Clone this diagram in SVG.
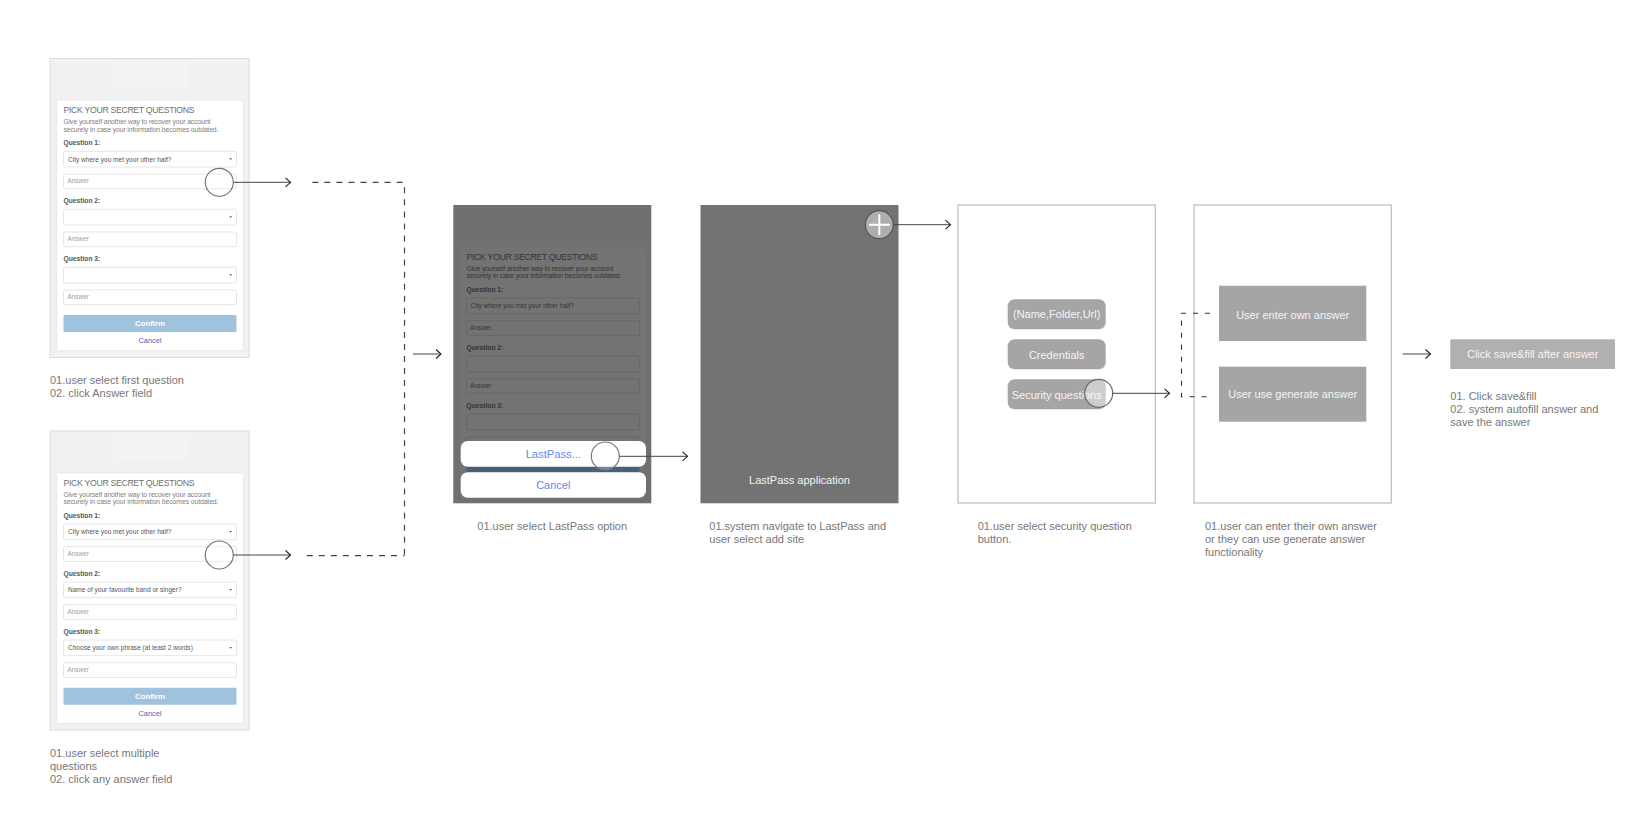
<svg xmlns="http://www.w3.org/2000/svg" width="1642" height="816" viewBox="0 0 1642 816">
<style>
text{font-family:"Liberation Sans",Arial,sans-serif}
.cap{font-size:11px;fill:#777}
.t{font-size:8.7px;fill:#707070}
.g{font-size:6.9px;fill:#808080}
.q{font-size:6.7px;font-weight:bold;fill:#555}
.v{font-size:6.55px;fill:#555}
.a{font-size:6.4px;fill:#a0a0a0}
.f{fill:#fff;stroke:#e6e6e6;stroke-width:1}
.d .t,.d .g,.d .q,.d .v,.d .a{fill:#333}
.d .f{fill:none;stroke:#686868}
.w{font-size:11px;fill:#f4f4f4;text-anchor:middle}
.frame{fill:#fff;stroke:#bdbdbd;stroke-width:1.2}
.ring{fill:#fff;fill-opacity:.25;stroke:#777;stroke-width:1.2}
.gb{fill:#a5a5a5}
.ln{fill:none;stroke:#444;stroke-width:1;marker-end:url(#ah)}
.dash{fill:none;stroke:#444;stroke-width:1.2;stroke-dasharray:6 6.05}
.dash2{fill:none;stroke:#333;stroke-width:1.1;stroke-dasharray:5 7}
.crt{fill:#666}
</style>
<defs>
<marker id="ah" markerUnits="userSpaceOnUse" markerWidth="10" markerHeight="12" refX="8" refY="6" orient="auto"><path d="M3 1.5L8 6L3 10.5" fill="none" stroke="#222" stroke-width="1.1"/></marker>
</defs>
<g id="screen-first">
<rect x="50" y="58.5" width="199" height="299" fill="#f1f1f1" stroke="#dcdcdc"/>
<rect x="114" y="62" width="74" height="26" fill="#f3f3f3"/>
<rect x="56.7" y="100" width="186.6" height="250.7" rx="1.5" fill="#fff" stroke="#e8e8e8"/>
<text class="t" x="63.5" y="113.3" textLength="131">PICK YOUR SECRET QUESTIONS</text>
<text class="g" x="63.5" y="124" textLength="147">Give yourself another way to recover your account</text>
<text class="g" x="63.5" y="131.7" textLength="155">securely in case your information becomes outdated.</text>
<text class="q" x="63.5" y="145.3">Question 1:</text>
<rect class="f" x="63.5" y="151.3" width="173" height="15.7" rx="1.5"/><text class="v" x="68" y="161.7">City where you met your other half?</text><path class="crt" d="M229.2 158.3h3l-1.5 1.8z"/>
<rect class="f" x="63.5" y="174" width="173" height="14.7" rx="1.5"/><text class="a" x="67.5" y="183.2">Answer</text>
<text class="q" x="63.5" y="203.3">Question 2:</text>
<rect class="f" x="63.5" y="209.3" width="173" height="15.7" rx="1.5"/><path class="crt" d="M229.2 216.3h3l-1.5 1.8z"/>
<rect class="f" x="63.5" y="232" width="173" height="14.7" rx="1.5"/><text class="a" x="67.5" y="241.2">Answer</text>
<text class="q" x="63.5" y="261.3">Question 3:</text>
<rect class="f" x="63.5" y="267.3" width="173" height="15.7" rx="1.5"/><path class="crt" d="M229.2 274.3h3l-1.5 1.8z"/>
<rect class="f" x="63.5" y="290" width="173" height="14.7" rx="1.5"/><text class="a" x="67.5" y="299.2">Answer</text>
<rect x="63.5" y="315" width="173" height="17" rx="1" fill="#9fc3de"/>
<text x="150" y="326.2" font-size="7.8" font-weight="bold" fill="#fff" text-anchor="middle">Confirm</text>
<text x="150" y="343" font-size="7.4" fill="#4f63b4" text-anchor="middle">Cancel</text>
<circle class="ring" cx="219.3" cy="182.3" r="14"/>
<text class="cap" x="50" y="383.8">01.user select first question</text>
<text class="cap" x="50" y="396.8">02. click Answer field</text>
</g>
<g id="screen-multiple">
<rect x="50" y="431" width="199" height="299" fill="#f1f1f1" stroke="#dcdcdc"/>
<rect x="114" y="434.7" width="74" height="26" fill="#f3f3f3"/>
<rect x="56.7" y="472.7" width="186.6" height="250.7" rx="1.5" fill="#fff" stroke="#e8e8e8"/>
<text class="t" x="63.5" y="486" textLength="131">PICK YOUR SECRET QUESTIONS</text>
<text class="g" x="63.5" y="496.7" textLength="147">Give yourself another way to recover your account</text>
<text class="g" x="63.5" y="504.4" textLength="155">securely in case your information becomes outdated.</text>
<text class="q" x="63.5" y="518">Question 1:</text>
<rect class="f" x="63.5" y="524" width="173" height="15.7" rx="1.5"/><text class="v" x="68" y="534.4">City where you met your other half?</text><path class="crt" d="M229.2 531h3l-1.5 1.8z"/>
<rect class="f" x="63.5" y="546.7" width="173" height="14.7" rx="1.5"/><text class="a" x="67.5" y="555.9">Answer</text>
<text class="q" x="63.5" y="576">Question 2:</text>
<rect class="f" x="63.5" y="582" width="173" height="15.7" rx="1.5"/><text class="v" x="68" y="592.4">Name of your favourite band or singer?</text><path class="crt" d="M229.2 589h3l-1.5 1.8z"/>
<rect class="f" x="63.5" y="604.7" width="173" height="14.7" rx="1.5"/><text class="a" x="67.5" y="613.9">Answer</text>
<text class="q" x="63.5" y="634">Question 3:</text>
<rect class="f" x="63.5" y="640" width="173" height="15.7" rx="1.5"/><text class="v" x="68" y="650.4">Choose your own phrase (at least 2 words)</text><path class="crt" d="M229.2 647h3l-1.5 1.8z"/>
<rect class="f" x="63.5" y="662.7" width="173" height="14.7" rx="1.5"/><text class="a" x="67.5" y="671.9">Answer</text>
<rect x="63.5" y="687.7" width="173" height="17" rx="1" fill="#9fc3de"/>
<text x="150" y="698.9" font-size="7.8" font-weight="bold" fill="#fff" text-anchor="middle">Confirm</text>
<text x="150" y="715.7" font-size="7.4" fill="#4f63b4" text-anchor="middle">Cancel</text>
<circle class="ring" cx="219.3" cy="555" r="14"/>
<text class="cap" x="50" y="756.5">01.user select multiple</text>
<text class="cap" x="50" y="769.5">questions</text>
<text class="cap" x="50" y="782.5">02. click any answer field</text>
</g>
<g id="screen-share" class="d">
<rect x="453.3" y="205" width="198" height="298.3" fill="#707070"/>
<rect x="460" y="246.7" width="186" height="250" rx="1.5" fill="#737373"/>
<text class="t" x="466.5" y="260" textLength="131">PICK YOUR SECRET QUESTIONS</text>
<text class="g" x="466.5" y="270.7" textLength="147">Give yourself another way to recover your account</text>
<text class="g" x="466.5" y="278.4" textLength="155">securely in case your information becomes outdated.</text>
<text class="q" x="466.5" y="292">Question 1:</text>
<rect class="f" x="466.5" y="298" width="173" height="15.7" rx="1.5"/><text class="v" x="470.5" y="308.4">City where you met your other half?</text><path class="crt" d="M632.2 305h3l-1.5 1.8z"/>
<rect class="f" x="466.5" y="320.7" width="173" height="14.7" rx="1.5"/><text class="a" x="470" y="329.9">Answer</text>
<text class="q" x="466.5" y="350">Question 2:</text>
<rect class="f" x="466.5" y="356" width="173" height="15.7" rx="1.5"/><path class="crt" d="M632.2 363h3l-1.5 1.8z"/>
<rect class="f" x="466.5" y="378.7" width="173" height="14.7" rx="1.5"/><text class="a" x="470" y="387.9">Answer</text>
<text class="q" x="466.5" y="408">Question 3:</text>
<rect class="f" x="466.5" y="414" width="173" height="15.7" rx="1.5"/><path class="crt" d="M632.2 421h3l-1.5 1.8z"/>
<rect class="f" x="466.5" y="436.7" width="173" height="14.7" rx="1.5"/>
<rect x="466.5" y="462" width="173" height="12" fill="#4a6076"/>
<rect x="460.7" y="441" width="185.3" height="25.7" rx="7" fill="#fff"/>
<rect x="460.7" y="472.3" width="185.3" height="25.4" rx="7" fill="#fff"/>
<text x="553.3" y="458.3" font-size="11.2" fill="#6289f2" text-anchor="middle">LastPass...</text>
<text x="553.3" y="488.6" font-size="11" fill="#6289f2" text-anchor="middle">Cancel</text>
<circle class="ring" cx="605.3" cy="456" r="14"/>
<text class="cap" x="477.3" y="529.8">01.user select LastPass option</text>
</g>
<g id="screen-lastpass">
<rect x="700.5" y="205" width="198" height="298.3" fill="#737373"/>
<text class="w" x="799.5" y="483.5">LastPass application</text>
<circle cx="879.3" cy="224.7" r="14" fill="#aeaeae" stroke="#555" stroke-width="1.2"/>
<path d="M868.8 224.7h21M879.3 214.2v21" stroke="#fff" stroke-width="2" fill="none"/>
<text class="cap" x="709.3" y="530">01.system navigate to LastPass and</text>
<text class="cap" x="709.3" y="543">user select add site</text>
</g>
<g id="screen-add-site">
<rect class="frame" x="958" y="205" width="197.3" height="298"/>
<rect class="gb" x="1007.7" y="299.3" width="98" height="30" rx="7"/>
<rect class="gb" x="1007.7" y="339.3" width="98" height="30" rx="7"/>
<rect class="gb" x="1007.7" y="379.3" width="98" height="30" rx="7"/>
<text class="w" x="1056.7" y="318.3">(Name,Folder,Url)</text>
<text class="w" x="1056.7" y="358.7">Credentials</text>
<text class="w" x="1056.7" y="398.7">Security questions</text>
<circle cx="1098.7" cy="393.3" r="14" fill="#fff" fill-opacity=".45" stroke="#666" stroke-width="1.2"/>
<text class="cap" x="977.7" y="530">01.user select security question</text>
<text class="cap" x="977.7" y="543">button.</text>
</g>
<g id="screen-answer">
<rect class="frame" x="1194" y="205" width="197.3" height="298"/>
<rect class="gb" x="1219" y="285.7" width="147.3" height="55.3"/>
<rect class="gb" x="1219" y="366.7" width="147.3" height="55"/>
<text class="w" x="1292.7" y="319">User enter own answer</text>
<text class="w" x="1292.7" y="398">User use generate answer</text>
<text class="cap" x="1205" y="530">01.user can enter their own answer</text>
<text class="cap" x="1205" y="543">or they can use generate answer</text>
<text class="cap" x="1205" y="556">functionality</text>
</g>
<g id="save-fill">
<rect x="1450.3" y="339.3" width="164.7" height="29.7" fill="#b0b0b0"/>
<text class="w" x="1532.7" y="358">Click save&amp;fill after answer</text>
<text class="cap" x="1450.3" y="400">01. Click save&amp;fill</text>
<text class="cap" x="1450.3" y="413.2">02. system autofill answer and</text>
<text class="cap" x="1450.3" y="426.4">save the answer</text>
</g>
<g id="connectors">
<path class="ln" d="M233.5 182.3H290.5"/>
<path class="ln" d="M233.5 555H290.5"/>
<path class="dash" d="M312.3 182.3H404.5"/>
<path class="dash" d="M404.5 187.3V556"/>
<path class="dash" d="M306.7 555.7H404.5"/>
<path class="ln" d="M413 354H441"/>
<path class="ln" d="M619.3 456.3H687.5"/>
<path class="ln" d="M893.3 224.7H950.5"/>
<path class="ln" d="M1112.7 393.3H1169.5"/>
<path class="dash2" d="M1210 313.3H1181.5V396.7H1209"/>
<path class="ln" d="M1402.7 354H1430.5"/>
</g>
</svg>
